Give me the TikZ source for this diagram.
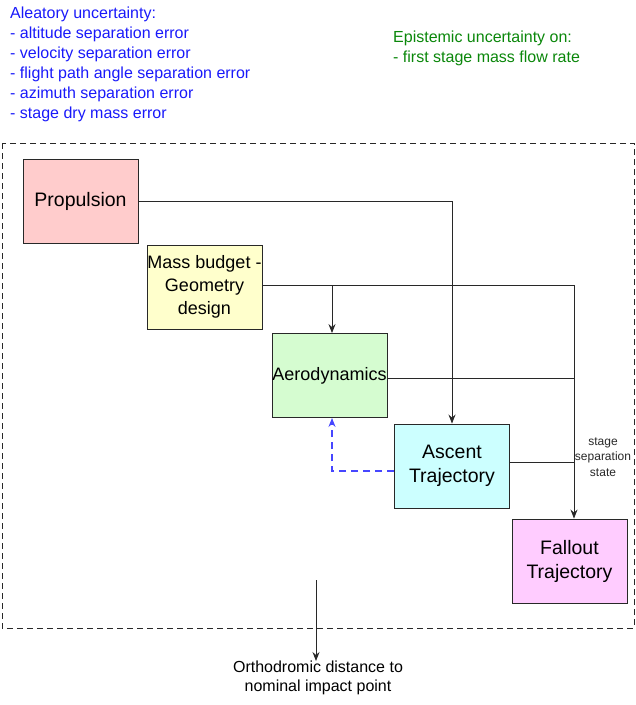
\documentclass[tikz,border=0pt]{standalone}
\usepackage{fontspec}
\setmainfont{Liberation Sans}
\usetikzlibrary{arrows.meta,calc}
\definecolor{aleablue}{RGB}{25,25,250}
\definecolor{episgreen}{RGB}{10,135,10}
\definecolor{dashblue}{RGB}{70,70,255}
\definecolor{edgegray}{RGB}{40,40,40}
\definecolor{fprop}{RGB}{255,204,204}
\definecolor{fmass}{RGB}{255,255,204}
\definecolor{faero}{RGB}{213,252,208}
\definecolor{fasc}{RGB}{204,255,255}
\definecolor{ffall}{RGB}{255,204,255}
\tikzset{
  blockbox/.style={draw=edgegray, line width=0.9pt, minimum width=115pt, minimum height=84pt, inner sep=0pt, align=center, text=black},
  bigfont/.style={font=\fontsize{19.5}{24}\selectfont},
  midfont/.style={font=\fontsize{18}{23}\selectfont},
  arr/.style={draw=edgegray, line width=0.9pt, -{Stealth[length=9pt,width=7pt,inset=3pt]}},
  conn/.style={draw=edgegray, line width=0.9pt},
  aleatxt/.style={anchor=base west, inner sep=0pt, text=aleablue, font=\fontsize{16}{20}\selectfont},
  epitxt/.style={anchor=base west, inner sep=0pt, text=episgreen, font=\fontsize{16}{20}\selectfont},
}
\begin{document}
\begin{tikzpicture}[x=1pt,y=-1pt]
\useasboundingbox (0,0) rectangle (636,705);
% outer dashed frame
\draw[edgegray, line width=0.8pt, dash pattern=on 6pt off 4pt] (2,143) rectangle (634,628);
% aleatory text
\node[aleatxt] (a0) at (10,18) {Aleatory uncertainty:};
\node[aleatxt] (a1) at (10,38) {- altitude separation error};
\node[aleatxt] (a2) at (10,58) {- velocity separation error};
\node[aleatxt] (a3) at (10,78) {- flight path angle separation error};
\node[aleatxt] (a4) at (10,98) {- azimuth separation error};
\node[aleatxt] (a5) at (10,118) {- stage dry mass error};
% epistemic text
\node[epitxt] (e0) at (393,42) {Epistemic uncertainty on:};
\node[epitxt] (e1) at (393,62) {- first stage mass flow rate};
% blocks
\node[blockbox, bigfont, fill=fprop] (prop) at (80.5,201) {Propulsion};
\node[blockbox, midfont, fill=fmass] (mass) at (204.5,287) {Mass budget -\\Geometry\\design};
\node[blockbox, midfont, fill=faero] (aero) at (329.5,375.5) {Aerodynamics};
\node[blockbox, bigfont, fill=fasc] (asc) at (452,466) {Ascent\\Trajectory};
\node[blockbox, bigfont, fill=ffall] (fall) at (569.5,561) {Fallout\\Trajectory};
% bus coordinates
\coordinate (bus) at (574,285);
\coordinate (branch) at (332,285);
% connectors
\draw[arr] (prop.east) -| (asc.north);
\draw[conn] ([yshift=2pt]mass.east) -- (bus);
\draw[arr] (bus) -- (bus |- fall.north);
\draw[arr] (branch) -- (branch |- aero.north);
\draw[conn] ([yshift=-2.5pt]aero.east) -- ([yshift=-2.5pt]aero.east -| bus);
\draw[conn] ([yshift=4pt]asc.east) -- ([yshift=4pt]asc.east -| bus);
\draw[dashblue, line width=1.2pt, dash pattern=on 7pt off 5pt, -{Stealth[length=9pt,width=7pt,inset=3pt]}]
  ([yshift=-5pt]asc.west) -| ([xshift=2.5pt]aero.south);
% stage separation label
\node[inner sep=0pt, align=center, font=\fontsize{12}{15.5}\selectfont, text=edgegray] (ssl) at (603,457) {stage\\separation\\state};
% output
\coordinate (outtop) at (316,580);
\node[inner sep=0pt, align=center, font=\fontsize{16}{19}\selectfont, text=black, anchor=north] (out) at (318,661) {Orthodromic distance to\\nominal impact point};
\draw[arr] (outtop) -- (outtop |- out.north);
\end{tikzpicture}
\end{document}
